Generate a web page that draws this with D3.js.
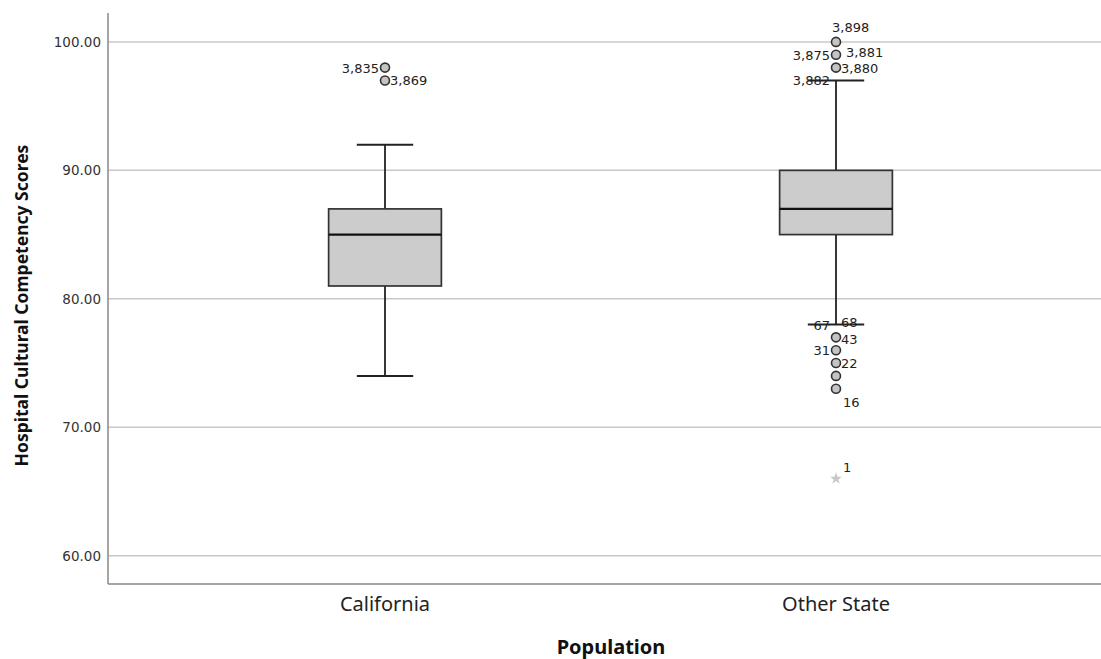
<!DOCTYPE html>
<html>
<head>
<meta charset="utf-8">
<script src="https://cdn.jsdelivr.net/npm/d3@7"></script>
<style>
  html, body { margin: 0; padding: 0; background: #fff; }
  svg { display: block; }
</style>
</head>
<body>
<svg id="chart" width="1101" height="659"></svg>
<script>
// ---- data ----
const categories = ["California", "Other State"];
const boxMin    = [74, 78];
const boxQ1     = [81, 85];
const boxMedian = [85, 87];
const boxQ3     = [87, 90];
const boxMax    = [92, 97];
const yTicks = [60, 70, 80, 90, 100];

// outliers (circles)
const outlierCat = ["California", "California", "Other State", "Other State", "Other State", "Other State", "Other State", "Other State", "Other State", "Other State"];
const outlierVal = [98, 97, 100, 99, 98, 77, 76, 75, 74, 73];
// extreme values (stars)
const extremeCat = ["Other State"];
const extremeVal = [66];

// case labels
const caseCat = ["California", "California", "Other State", "Other State", "Other State", "Other State", "Other State", "Other State", "Other State", "Other State", "Other State", "Other State", "Other State", "Other State"];
const caseVal = [98, 97, 100, 99, 99, 98, 97, 78, 78, 77, 76, 75, 73, 66];
const caseId  = ["3,835", "3,869", "3,898", "3,875", "3,881", "3,880", "3,882", "67", "68", "43", "31", "22", "16", "1"];

// ---- layout / style ----
const mLeft = 108, mRight = 1101, mTop = 13, mBottom = 584;
const caseSide = ["left", "right", "above", "left", "rightUp", "right", "left", "left", "rightHigh", "rightLow", "left", "right", "below", "aboveRight"];

const svg = d3.select("#chart");

const y = d3.scaleLinear().domain([57.8, 102.25]).range([mBottom, mTop]);
const x = d3.scaleBand().domain(categories).range([159.5, 1061.5]).paddingInner(0).paddingOuter(0);
const cx = c => x(c) + x.bandwidth() / 2;
const boxW = x.bandwidth() * 0.25;
const capW = boxW / 2;

// gridlines
svg.append("g")
  .selectAll("line").data(yTicks).join("line")
  .attr("x1", mLeft).attr("x2", mRight)
  .attr("y1", d => y(d)).attr("y2", d => y(d))
  .attr("stroke", "#c8c8c8").attr("stroke-width", 1.5);

// y axis
const yAxis = d3.axisLeft(y).tickValues(yTicks).tickFormat(d3.format(".2f")).tickSize(0).tickPadding(7);
const gy = svg.append("g").attr("transform", `translate(${mLeft},0)`).call(yAxis);
gy.select(".domain").remove();
gy.selectAll("text").attr("font-family", "DejaVu Sans").attr("font-size", 13.5).attr("fill", "#333");
svg.append("line").attr("x1", mLeft).attr("x2", mLeft).attr("y1", mTop).attr("y2", mBottom)
  .attr("stroke", "#888").attr("stroke-width", 1.5);

// x axis
const xAxis = d3.axisBottom(x).tickSize(0).tickPadding(13);
const gx = svg.append("g").attr("transform", `translate(0,${mBottom})`).call(xAxis);
gx.select(".domain").remove();
gx.selectAll("text").attr("font-family", "Noto Sans").attr("font-size", 20).attr("fill", "#222");
svg.append("line").attr("x1", mLeft).attr("x2", mRight).attr("y1", mBottom).attr("y2", mBottom)
  .attr("stroke", "#888").attr("stroke-width", 1.5);

// titles
svg.append("text").attr("x", 611).attr("y", 654)
  .attr("text-anchor", "middle").attr("font-family", "Noto Sans").attr("font-weight", "bold")
  .attr("font-size", 20).attr("fill", "#111").text("Population");
svg.append("text").attr("transform", `translate(28,${(mTop + mBottom) / 2 + 7}) rotate(-90)`)
  .attr("text-anchor", "middle").attr("font-family", "Noto Sans").attr("font-weight", "bold")
  .attr("font-size", 17.5).attr("fill", "#111").text("Hospital Cultural Competency Scores");

// boxes
const boxes = categories.map((c, i) => ({ c, min: boxMin[i], q1: boxQ1[i], med: boxMedian[i], q3: boxQ3[i], max: boxMax[i] }));
const gb = svg.append("g");
boxes.forEach(b => {
  const xc = cx(b.c);
  gb.append("line").attr("x1", xc).attr("x2", xc).attr("y1", y(b.q3)).attr("y2", y(b.max))
    .attr("stroke", "#222").attr("stroke-width", 1.8);
  gb.append("line").attr("x1", xc).attr("x2", xc).attr("y1", y(b.q1)).attr("y2", y(b.min))
    .attr("stroke", "#222").attr("stroke-width", 1.8);
  [b.max, b.min].forEach(v => {
    gb.append("line").attr("x1", xc - capW / 2).attr("x2", xc + capW / 2).attr("y1", y(v)).attr("y2", y(v))
      .attr("stroke", "#222").attr("stroke-width", 2);
  });
  gb.append("rect").attr("x", xc - boxW / 2).attr("width", boxW)
    .attr("y", y(b.q3)).attr("height", y(b.q1) - y(b.q3))
    .attr("fill", "#cccccc").attr("stroke", "#333").attr("stroke-width", 1.7);
  gb.append("line").attr("x1", xc - boxW / 2).attr("x2", xc + boxW / 2).attr("y1", y(b.med)).attr("y2", y(b.med))
    .attr("stroke", "#111").attr("stroke-width", 2.2);
});

// outlier circles
svg.append("g").selectAll("circle").data(outlierVal.map((v, i) => ({ c: outlierCat[i], v })))
  .join("circle")
  .attr("cx", d => cx(d.c)).attr("cy", d => y(d.v)).attr("r", 4.5)
  .attr("fill", "#c4c4c4").attr("stroke", "#333").attr("stroke-width", 1.6);

// extreme stars
svg.append("g").selectAll("path").data(extremeVal.map((v, i) => ({ c: extremeCat[i], v })))
  .join("path")
  .attr("d", d3.symbol().type(d3.symbolStar).size(45))
  .attr("transform", d => `translate(${cx(d.c)},${y(d.v)})`)
  .attr("fill", "#c8c8c8").attr("stroke", "none");

// case labels
const offs = {
  left:       { dx: -6, dy: 5,  anchor: "end" },
  right:      { dx: 5,  dy: 5,  anchor: "start" },
  rightHigh:  { dx: 5,  dy: 2,  anchor: "start" },
  rightLow:   { dx: 5,  dy: 7,  anchor: "start" },
  rightUp:    { dx: 10, dy: 2,  anchor: "start" },
  above:      { dx: -4, dy: -10, anchor: "start" },
  below:      { dx: 7,  dy: 18, anchor: "start" },
  aboveRight: { dx: 7,  dy: -7, anchor: "start" }
};
svg.append("g").selectAll("text").data(caseId.map((id, i) => ({ id, c: caseCat[i], v: caseVal[i], s: offs[caseSide[i]] })))
  .join("text")
  .attr("x", d => cx(d.c) + d.s.dx).attr("y", d => y(d.v) + d.s.dy)
  .attr("text-anchor", d => d.s.anchor)
  .attr("font-family", "DejaVu Sans").attr("font-size", 13).attr("fill", "#222")
  .text(d => d.id);
</script>
</body>
</html>
